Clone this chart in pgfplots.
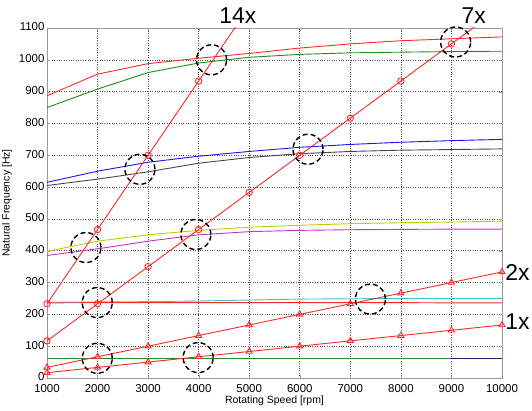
\documentclass[border=0pt]{standalone}
\usepackage{pgfplots}
\pgfplotsset{compat=1.18}
\usepackage{fontspec}
\setmainfont{Liberation Sans}
\definecolor{mred}{RGB}{255,40,40}
\definecolor{mgreen}{RGB}{30,140,30}
\definecolor{myellow}{RGB}{200,200,0}
\definecolor{mmag}{RGB}{200,50,200}
\definecolor{mcyan}{RGB}{50,200,200}
\definecolor{mblue}{RGB}{20,20,255}
\definecolor{mgray}{RGB}{70,70,70}
\definecolor{mnavy}{RGB}{20,40,120}
\begin{document}
\begin{tikzpicture}
\begin{axis}[
  scale only axis, width=455bp, height=350bp,
  xmin=1000, xmax=10000, ymin=0, ymax=1100,
  xtick={1000,2000,...,10000}, ytick={0,100,...,1100},
  scaled ticks=false,
  /pgf/number format/.cd, 1000 sep={}, assume math mode=true, /pgfplots/.cd,
  ticklabel style={font=\fontsize{11.5}{12}\selectfont},
  xticklabel style={yshift=-2.5bp},
  yticklabel style={xshift=1bp, yshift=1bp},
  grid=major,
  grid style={dotted, gray!60!black, line width=0.6bp},
  axis line style={gray!80, line width=0.9bp},
  tick style={gray!80},
  major tick length=3bp,
  clip mode=individual,
  xlabel={Rotating Speed [rpm]},
  ylabel={Natural Frequency [Hz]},
  xlabel style={at={(axis description cs:0.5,-0.066)}, anchor=center, font=\fontsize{10.5}{12}\selectfont},
  ylabel style={at={(axis description cs:-0.088,0.5)}, anchor=center, rotate=0, font=\fontsize{10.5}{12}\selectfont},
  every axis plot/.append style={line width=0.9bp},
]
% horizontal-ish modes
\addplot[mgreen, no marks] coordinates {(1000,62.5)(2000,62.5)(3000,62.5)(4000,62.5)(5000,62.5)(6000,62.5)(7000,62.5)(8000,62.5)(9000,62.5)(10000,62.5)};
\addplot[mnavy, no marks] coordinates {(9000,62.5)(10000,62.5)};
\addplot[mcyan, no marks] coordinates {(1000,238)(2000,239)(3000,240)(4000,242)(5000,245)(6000,248)(7000,249)(8000,250)(9000,250)(10000,250)};
\addplot[mred, no marks] coordinates {(1000,236)(2000,237)(3000,237)(4000,237)(5000,237)(6000,237)(7000,237)(8000,237)(9000,236)(10000,236)};
\addplot[mmag, no marks] coordinates {(1000,385)(2000,406)(3000,430)(4000,450)(5000,460)(6000,464)(7000,466)(8000,467)(9000,468)(10000,468)};
\addplot[myellow, no marks] coordinates {(1000,398)(2000,430)(3000,450)(4000,464)(5000,474)(6000,480)(7000,485)(8000,488)(9000,490)(10000,493)};
\addplot[mgray, no marks] coordinates {(1000,605)(2000,625)(3000,648)(4000,675)(5000,693)(6000,705)(7000,712)(8000,716)(9000,718)(10000,720)};
\addplot[mblue, no marks] coordinates {(1000,615)(2000,650)(3000,678)(4000,697)(5000,712)(6000,725)(7000,734)(8000,741)(9000,746)(10000,750)};
\addplot[mgreen, no marks] coordinates {(1000,850)(2000,908)(3000,960)(4000,990)(5000,1008)(6000,1017)(7000,1022)(8000,1024)(9000,1026)(10000,1027)};
\addplot[mred, no marks] coordinates {(1000,887)(2000,955)(3000,988)(4000,1005)(5000,1020)(6000,1037)(7000,1050)(8000,1060)(9000,1066)(10000,1072)};
% engine orders
\addplot[mred, mark=triangle, mark size=3.5bp, mark options={solid}] coordinates {(1000,16.7)(2000,33.3)(3000,50)(4000,66.7)(5000,83.3)(6000,100)(7000,116.7)(8000,133.3)(9000,150)(10000,166.7)};
\addplot[mred, mark=triangle, mark size=3.5bp, mark options={solid}] coordinates {(1000,33.3)(2000,66.7)(3000,100)(4000,133.3)(5000,166.7)(6000,200)(7000,233.3)(8000,266.7)(9000,300)(10000,333.3)};
\addplot[mred, mark=o, mark size=3.2bp, mark indices={1,2,3,4,5,6,7,8,9}] coordinates {(1000,116.7)(2000,233.3)(3000,350)(4000,466.7)(5000,583.3)(6000,700)(7000,816.7)(8000,933.3)(9000,1050)(10000,1166.7)};
\addplot[mred, mark=o, mark size=3.2bp, mark indices={1,2,3,4}] coordinates {(1000,233.3)(2000,466.7)(3000,700)(4000,933.3)(5000,1166.7)};
% dashed circles
\addplot[only marks, mark=o, mark size=15bp, mark options={black, line width=1.4bp, dash pattern=on 5bp off 3bp}] coordinates {
 (4255,1000)(2838,656)(3945,451)(1770,410)(6163,719)(9083,1056)(1994,237)(7397,248)(1994,62)(3990,64)};
\node[font=\fontsize{23}{24}\selectfont] at (axis cs:4775,1140) {14x};
\node[font=\fontsize{23}{24}\selectfont] at (axis cs:9439,1140) {7x};
\node[font=\fontsize{23}{24}\selectfont] at (axis cs:10308,332) {2x};
\node[font=\fontsize{23}{24}\selectfont] at (axis cs:10308,177) {1x};
\end{axis}
\pgfresetboundingbox
\path[use as bounding box] ([xshift=-47bp,yshift=-33bp]current axis.south west) rectangle ([xshift=30bp,yshift=28bp]current axis.north east);
\end{tikzpicture}
\end{document}
